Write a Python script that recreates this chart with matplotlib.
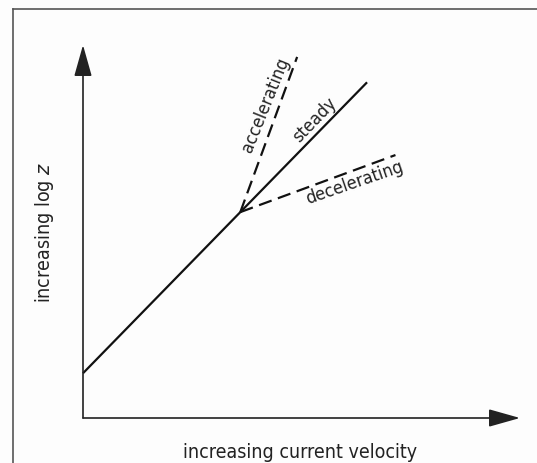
import matplotlib
matplotlib.use("Agg")
import matplotlib.pyplot as plt
from matplotlib.lines import Line2D
from matplotlib import font_manager

# Schematic: log z vs current velocity for steady / accelerating / decelerating flow
steady_x = [0.0, 6.5]
steady_y = [1.2, 9.0]
kink_x, kink_y = 3.6, 5.52
accel_x = [kink_x, 4.9]
accel_y = [kink_y, 9.68]
decel_x = [kink_x, 7.15]
decel_y = [kink_y, 7.05]

xlabel = "increasing current velocity"
ylabel = "increasing log $z$"

names = sorted({f.name + "|" + str(f.stretch) for f in font_manager.fontManager.ttflist})
print([n for n in names if "ond" in n or "arrow" in n])

W, H = 537, 463
fig = plt.figure(figsize=(W / 100, H / 100), dpi=100)
fig.patch.set_facecolor("#fdfdfd")

font = ["DejaVu Sans"]

# outer frame (top and left edges)
frame_kw = dict(color="#555555", lw=1.2, transform=fig.transFigure)
fig.add_artist(Line2D([13 / W, 13 / W], [0, 1 - 9 / H], **frame_kw))
fig.add_artist(Line2D([13 / W, 1], [1 - 9 / H, 1 - 9 / H], **frame_kw))

# axes region: origin at pixel (83, 418), arrow tips at x=520 / y=45
left, bottom = 83 / W, (H - 418) / H
width, height = (520 - 83) / W, (418 - 45) / H
ax = fig.add_axes([left, bottom, width, height])
ax.set_xlim(0, 10)
ax.set_ylim(0, 10)
ax.axis("off")
ax.patch.set_alpha(0)

arrow_kw = dict(arrowstyle="-|>,head_length=1.95,head_width=0.55",
                mutation_scale=10, color="#222222", lw=1.2,
                shrinkA=0, shrinkB=0)
ax.annotate("", xy=(10, 0), xytext=(0, 0), arrowprops=arrow_kw,
            annotation_clip=False)
ax.annotate("", xy=(0, 10), xytext=(0, 0), arrowprops=arrow_kw,
            annotation_clip=False)

ax.plot(steady_x, steady_y, color="#111111", lw=1.6, solid_capstyle="butt",
        clip_on=False)
ax.plot(accel_x, accel_y, color="#111111", lw=1.6, dashes=(6, 3),
        dash_capstyle="butt", clip_on=False)
ax.plot(decel_x, decel_y, color="#111111", lw=1.6, dashes=(6, 3),
        dash_capstyle="butt", clip_on=False)

txt_kw = dict(family=font, fontsize=13, stretch="condensed", color="#222222",
              ha="center", va="center", rotation_mode="anchor")
ax.text(4.18, 8.39, "accelerating", rotation=68, **txt_kw)
ax.text(5.3, 7.98, "steady", rotation=46, **txt_kw)
ax.text(6.22, 6.30, "decelerating", rotation=19, **txt_kw)

fig.text(300 / W, 1 - 452 / H, xlabel, family=font, fontsize=14,
         stretch="condensed", color="#222222", ha="center", va="center")
fig.text(45 / W, 1 - 232 / H, ylabel, family=font, fontsize=14,
         stretch="condensed", color="#222222", ha="center", va="center",
         rotation=90)

fig.savefig("out.png", dpi=100, facecolor=fig.get_facecolor())
